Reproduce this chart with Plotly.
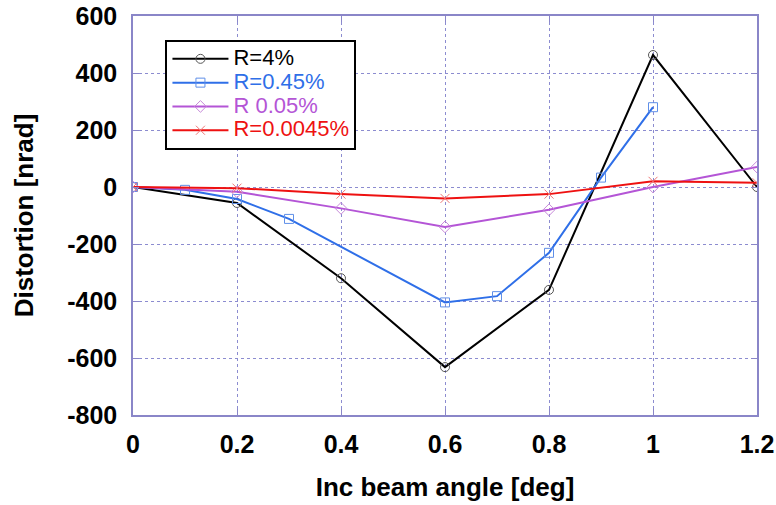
import plotly.graph_objects as go

x_r4 = [0, 0.2, 0.4, 0.6, 0.8, 1.0, 1.2]
y_r4 = [0, -56, -320, -632, -361, 463, 0]

x_r045 = [0, 0.1, 0.2, 0.3, 0.6, 0.7, 0.8, 0.9, 1.0]
y_r045 = [0, -10, -42, -112, -405, -383, -231, 33, 280]

x_r005 = [0, 0.2, 0.4, 0.6, 0.8, 1.0, 1.2]
y_r005 = [0, -17, -75, -140, -80, 0, 70]

x_r00045 = [0, 0.2, 0.4, 0.6, 0.8, 1.0, 1.2]
y_r00045 = [0, -4, -25, -40, -25, 20, 15]

x_tickvals = [0, 0.2, 0.4, 0.6, 0.8, 1.0, 1.2]
x_ticktext = ["0", "0.2", "0.4", "0.6", "0.8", "1", "1.2"]
y_tickvals = [-800, -600, -400, -200, 0, 200, 400, 600]
y_ticktext = ["-800", "-600", "-400", "-200", "0", "200", "400", "600"]

series = [
    ("R=4%", x_r4, y_r4, "#000000", "#555555", "circle-open"),
    ("R=0.45%", x_r045, y_r045, "#2f6fe8", "#5f8fe8", "square-open"),
    ("R 0.05%", x_r005, y_r005, "#b455d6", "#c78ad9", "diamond-open"),
    ("R=0.0045%", x_r00045, y_r00045, "#ee1111", "#ee7777", "x-thin-open"),
]

fig = go.Figure()
for name, xs, ys, lc, mc, sym in series:
    fig.add_trace(go.Scatter(
        x=xs, y=ys, mode="lines+markers",
        name=f'<span style="color:{lc};font-size:22px">{name}</span>',
        line=dict(color=lc, width=2),
        marker=dict(symbol=sym, size=9, color=mc, line=dict(color=mc, width=1)),
    ))

FONT = "Liberation Sans, Arial, Helvetica"
axis_common = dict(
    showgrid=True, gridcolor="#8c8cd0", griddash="dot", gridwidth=1,
    showline=True, linecolor="#8a86c8", linewidth=1.5, mirror="ticks",
    ticks="inside", ticklen=6, tickcolor="#8a86c8", zeroline=False,
    automargin=False,
    tickfont=dict(family=FONT, size=25, color="black", weight="bold"),
    title_font=dict(family=FONT, size=26, color="black", weight="bold"),
)

fig.update_xaxes(range=[0, 1.2], tickvals=x_tickvals, ticktext=x_ticktext,
                 ticklabelstandoff=6,
                 title_text="Inc beam angle [deg]", title_standoff=21, **axis_common)
fig.update_yaxes(range=[-800, 600], tickvals=y_tickvals, ticktext=y_ticktext,
                 ticklabelstandoff=9,
                 title_text="Distortion [nrad]", title_standoff=26, **axis_common)

fig.update_layout(
    width=776, height=505,
    margin=dict(l=133, r=19, t=16, b=90),
    plot_bgcolor="white", paper_bgcolor="white",
    showlegend=True,
    legend=dict(x=0.052, y=0.94, xanchor="left", yanchor="top",
                bgcolor="white", bordercolor="black", borderwidth=2,
                font=dict(family=FONT, size=16),
                itemwidth=56, tracegroupgap=0),
)

fig.write_html("out.html")
